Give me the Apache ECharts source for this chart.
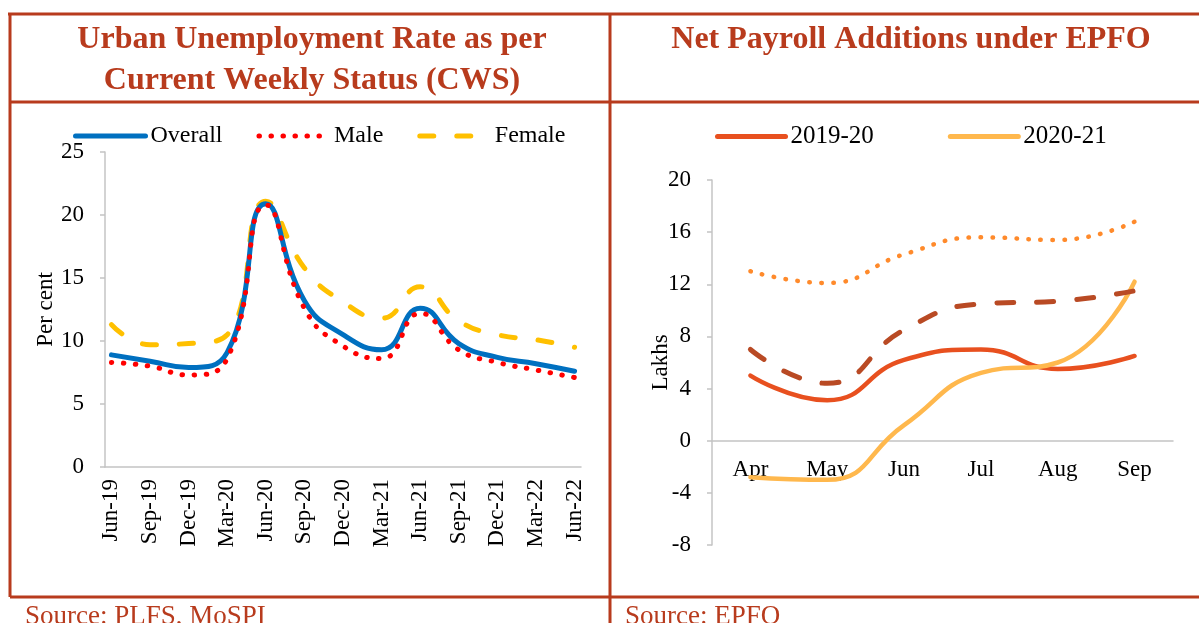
<!DOCTYPE html>
<html>
<head>
<meta charset="utf-8">
<script src="https://cdn.jsdelivr.net/npm/echarts@6/dist/echarts.min.js"></script>
<style>
  html, body { margin: 0; padding: 0; background: #fff; }
  #chart-container { width: 1199px; height: 623px; }
</style>
</head>
<body>
<div id="chart-container"></div>
<script>
'use strict';

// left panel: urban unemployment (per cent), quarterly values on a monthly axis
const monthLabels = [
    'Jun-19', 'Jul-19', 'Aug-19', 'Sep-19', 'Oct-19', 'Nov-19', 'Dec-19',
    'Jan-20', 'Feb-20', 'Mar-20', 'Apr-20', 'May-20', 'Jun-20', 'Jul-20', 'Aug-20', 'Sep-20', 'Oct-20', 'Nov-20', 'Dec-20',
    'Jan-21', 'Feb-21', 'Mar-21', 'Apr-21', 'May-21', 'Jun-21', 'Jul-21', 'Aug-21', 'Sep-21', 'Oct-21', 'Nov-21', 'Dec-21',
    'Jan-22', 'Feb-22', 'Mar-22', 'Apr-22', 'May-22', 'Jun-22'
];
const quarterEnds = ['Jun-19', 'Sep-19', 'Dec-19', 'Mar-20', 'Jun-20', 'Sep-20', 'Dec-20',
    'Mar-21', 'Jun-21', 'Sep-21', 'Dec-21', 'Mar-22', 'Jun-22'];
const overall = [8.9, 8.4, 7.9, 9.1, 20.9, 13.2, 10.5, 9.3, 12.6, 9.8, 8.7, 8.2, 7.6];
const male = [8.3, 8.0, 7.3, 8.6, 20.8, 12.6, 9.6, 8.6, 12.2, 9.3, 8.3, 7.7, 7.1];
const female = [11.3, 9.7, 9.8, 10.5, 21.1, 15.8, 13.1, 11.8, 14.3, 11.6, 10.5, 10.1, 9.5];

// right panel: net payroll additions (lakhs)
const payrollMonths = ['Apr', 'May', 'Jun', 'Jul', 'Aug', 'Sep'];
const fy1920 = [5.0, 3.1, 6.2, 7.0, 5.5, 6.5];
const fy2021 = [-2.8, -3.0, 1.2, 5.2, 6.0, 12.2];
const fy2122 = [7.0, 4.4, 8.5, 10.5, 10.7, 11.5];
const fy2223 = [13.0, 12.1, 14.3, 15.6, 15.4, 16.8];

const FONT = '"Liberation Serif", "Times New Roman", serif';
const BRICK = '#B83B1D';
const AXIS_GREY = '#C4C4C4';

// put each quarterly value on its month, blanks in between
function toMonthly(values) {
    const out = monthLabels.map(() => null);
    quarterEnds.forEach((q, i) => {
        out[monthLabels.indexOf(q)] = values[i];
    });
    return out;
}

function frameLine(x1, y1, x2, y2) {
    return {
        type: 'line',
        shape: { x1: x1, y1: y1, x2: x2, y2: y2 },
        style: { stroke: BRICK, lineWidth: 3 },
        silent: true
    };
}

function headText(text, x, y, bold, size, align) {
    return {
        type: 'text',
        x: x,
        y: y,
        style: {
            text: text,
            fill: BRICK,
            font: (bold ? 'bold ' : '') + size + 'px ' + FONT,
            align: align,
            verticalAlign: 'middle'
        },
        silent: true
    };
}

const tickText = { color: '#000', fontSize: 23, fontFamily: FONT };
// hides the round marker ECharts puts in the middle of a line legend icon
const noMarker = { color: 'transparent', borderWidth: 0, opacity: 0 };
const legendLine = { width: 5, cap: 'round' };

const myChart = echarts.init(document.getElementById('chart-container'), null, { renderer: 'canvas' });

const option = {
    animation: false,
    backgroundColor: '#fff',
    graphic: [
        frameLine(8, 14, 1199, 14),
        frameLine(10, 102, 1199, 102),
        frameLine(10, 597, 1199, 597),
        frameLine(10, 14, 10, 597),
        frameLine(610, 14, 610, 623),
        headText('Urban Unemployment Rate as per', 312, 40, true, 32, 'center'),
        headText('Current Weekly Status (CWS)', 312, 81, true, 32, 'center'),
        headText('Net Payroll Additions under EPFO', 911, 40, true, 32, 'center'),
        headText('Source: PLFS, MoSPI', 25, 617, false, 27, 'left'),
        headText('Source: EPFO', 625, 617, false, 27, 'left')
    ],
    legend: [
        {
            data: ['Overall', 'Male', 'Female'],
            left: 73,
            top: 124,
            padding: 0,
            itemWidth: 70,
            itemHeight: 14,
            itemGap: 34,
            itemStyle: noMarker,
            lineStyle: legendLine,
            textStyle: Object.assign({}, tickText, { fontSize: 24 })
        },
        {
            data: ['2019-20', '2020-21'],
            left: 715,
            top: 124,
            padding: 0,
            itemWidth: 68,
            itemHeight: 14,
            itemGap: 74,
            itemStyle: noMarker,
            lineStyle: legendLine,
            textStyle: Object.assign({}, tickText, { fontSize: 25 })
        }
    ],
    grid: [
        { left: 105, right: 618, top: 152, bottom: 156 },
        { left: 712, right: 26, top: 180, bottom: 78 }
    ],
    xAxis: [
        {
            type: 'category',
            gridIndex: 0,
            data: monthLabels,
            boundaryGap: true,
            axisLine: { lineStyle: { color: AXIS_GREY, width: 1.5 } },
            axisTick: { interval: 2, length: 5, lineStyle: { color: AXIS_GREY, width: 1.5 } },
            axisLabel: Object.assign({ interval: 2, rotate: 90, margin: 12 }, tickText),
            splitLine: { show: false }
        },
        {
            type: 'category',
            gridIndex: 1,
            data: payrollMonths,
            boundaryGap: true,
            // sit the axis (and its labels) on the zero line: 8 of the 28 units above the bottom
            axisLine: { onZero: false, lineStyle: { color: AXIS_GREY, width: 1.5 } },
            offset: -(365 * 8 / 28),
            axisTick: { show: false },
            axisLabel: Object.assign({ margin: 18 }, tickText),
            splitLine: { show: false }
        }
    ],
    yAxis: [
        {
            type: 'value',
            gridIndex: 0,
            min: 0,
            max: 25,
            interval: 5,
            name: 'Per cent',
            nameLocation: 'middle',
            nameRotate: 90,
            nameGap: 48,
            nameMoveOverlap: false,
            nameTextStyle: tickText,
            axisLine: { show: true, lineStyle: { color: AXIS_GREY, width: 1.5 } },
            axisTick: { show: true, length: 5, lineStyle: { color: AXIS_GREY, width: 1.5 } },
            axisLabel: Object.assign({ margin: 21 }, tickText),
            splitLine: { show: false }
        },
        {
            type: 'value',
            gridIndex: 1,
            min: -8,
            max: 20,
            interval: 4,
            name: 'Lakhs',
            nameLocation: 'middle',
            nameRotate: 90,
            nameGap: 40,
            nameMoveOverlap: false,
            nameTextStyle: tickText,
            axisLine: { show: true, onZero: false, lineStyle: { color: AXIS_GREY, width: 1.5 } },
            axisTick: { show: true, length: 5, lineStyle: { color: AXIS_GREY, width: 1.5 } },
            axisLabel: Object.assign({ margin: 21 }, tickText),
            splitLine: { show: false }
        }
    ],
    series: [
        {
            name: 'Overall',
            type: 'line',
            xAxisIndex: 0,
            yAxisIndex: 0,
            data: toMonthly(overall),
            connectNulls: true,
            smooth: 0.5,
            symbol: 'none',
            lineStyle: { color: '#0070C0', width: 5, cap: 'round' },
            itemStyle: { color: '#0070C0' },
            z: 3
        },
        {
            name: 'Male',
            type: 'line',
            xAxisIndex: 0,
            yAxisIndex: 0,
            data: toMonthly(male),
            connectNulls: true,
            smooth: 0.5,
            symbol: 'none',
            lineStyle: { color: '#FF0000', width: 5, type: [0.5, 11.5], cap: 'round' },
            itemStyle: { color: '#FF0000' },
            z: 4
        },
        {
            name: 'Female',
            type: 'line',
            xAxisIndex: 0,
            yAxisIndex: 0,
            data: toMonthly(female),
            connectNulls: true,
            smooth: 0.5,
            symbol: 'none',
            lineStyle: { color: '#FFC000', width: 5, type: [14, 23], cap: 'round' },
            itemStyle: { color: '#FFC000' },
            z: 2
        },
        {
            name: '2019-20',
            type: 'line',
            xAxisIndex: 1,
            yAxisIndex: 1,
            data: fy1920,
            smooth: 0.5,
            symbol: 'none',
            lineStyle: { color: '#E8501F', width: 4.5, cap: 'round' },
            itemStyle: { color: '#E8501F' }
        },
        {
            name: '2020-21',
            type: 'line',
            xAxisIndex: 1,
            yAxisIndex: 1,
            data: fy2021,
            smooth: 0.5,
            symbol: 'none',
            lineStyle: { color: '#FFB84D', width: 4.5, cap: 'round' },
            itemStyle: { color: '#FFB84D' }
        },
        {
            name: '2021-22',
            type: 'line',
            xAxisIndex: 1,
            yAxisIndex: 1,
            data: fy2122,
            smooth: 0.5,
            symbol: 'none',
            lineStyle: { color: '#B94A24', width: 5, type: [17, 23], cap: 'round' },
            itemStyle: { color: '#B94A24' }
        },
        {
            name: '2022-23',
            type: 'line',
            xAxisIndex: 1,
            yAxisIndex: 1,
            data: fy2223,
            smooth: 0.5,
            symbol: 'none',
            lineStyle: { color: '#FF8A2B', width: 4.5, type: [0.5, 11.5], cap: 'round' },
            itemStyle: { color: '#FF8A2B' }
        }
    ]
};
myChart.setOption(option);

window.addEventListener('resize', myChart.resize);
</script>
</body>
</html>
